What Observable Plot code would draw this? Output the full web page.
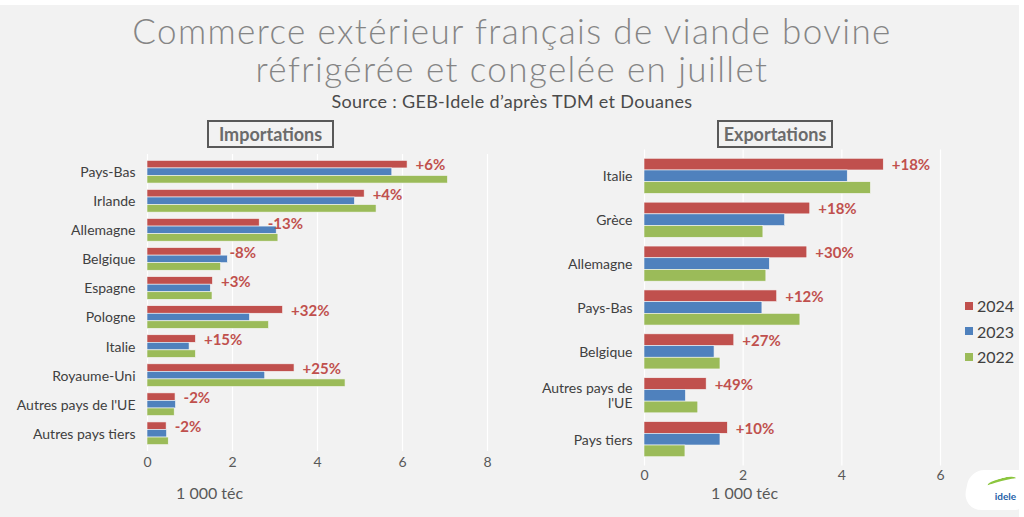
<!DOCTYPE html>
<html><head><meta charset="utf-8">
<script src="https://cdn.jsdelivr.net/npm/d3@7"></script>
<script src="https://cdn.jsdelivr.net/npm/@observablehq/plot@0.6"></script>
<style>
html,body{margin:0;padding:0;background:#ffffff;}
#root{position:relative;width:1024px;height:517px;overflow:hidden;font-family:Lato,"Open Sans",sans-serif;background:#ffffff;}
#panel{position:absolute;left:0;top:5px;width:1019px;height:512px;background:#f2f2f2;}
.abs{position:absolute;}
.title{left:0;width:1024px;text-align:center;color:#858585;font-weight:300;font-size:35px;letter-spacing:1.4px;line-height:38px;white-space:nowrap;}
.sub{left:0;width:1024px;text-align:center;color:#4a4a4a;font-size:18px;letter-spacing:0.3px;}
.box{border:2px solid #595959;color:#6b6b6b;font-weight:bold;font-size:18px;text-align:center;line-height:24px;box-sizing:border-box;}
.unit{color:#595959;font-size:16px;}
.leg{color:#404040;font-size:16px;display:flex;align-items:center;}
.leg span{display:inline-block;width:8px;height:8px;margin-right:4px;}
.plot{position:absolute;top:0;}
</style></head><body><div id="root"><div id="panel"></div></div>
<script>
const years = ["2024", "2023", "2022"];
const yearColors = ["#c0504d", "#4f81bd", "#9bbb59"];

const impCountries = ["Pays-Bas", "Irlande", "Allemagne", "Belgique", "Espagne", "Pologne", "Italie", "Royaume-Uni", "Autres pays de l'UE", "Autres pays tiers"];
const impTickLabels = ["Pays-Bas", "Irlande", "Allemagne", "Belgique", "Espagne", "Pologne", "Italie", "Royaume-Uni", "Autres pays de l'UE", "Autres pays tiers"];
const imp2024 = [6.12, 5.11, 2.64, 1.74, 1.54, 3.19, 1.14, 3.46, 0.66, 0.45];
const imp2023 = [5.76, 4.88, 3.04, 1.89, 1.49, 2.41, 0.99, 2.77, 0.67, 0.46];
const imp2022 = [7.07, 5.39, 3.08, 1.73, 1.53, 2.86, 1.14, 4.66, 0.64, 0.50];
const impLabels = ["+6%", "+4%", "-13%", "-8%", "+3%", "+32%", "+15%", "+25%", "-2%", "-2%"];
const impTicks = [0, 2, 4, 6, 8];

const expCountries = ["Italie", "Grèce", "Allemagne", "Pays-Bas", "Belgique", "Autres pays de l'UE", "Pays tiers"];
const expTickLabels = ["Italie", "Grèce", "Allemagne", "Pays-Bas", "Belgique", "Autres pays de\nl'UE", "Pays tiers"];
const exp2024 = [4.85, 3.36, 3.30, 2.69, 1.82, 1.26, 1.69];
const exp2023 = [4.12, 2.85, 2.54, 2.39, 1.42, 0.84, 1.54];
const exp2022 = [4.59, 2.41, 2.47, 3.16, 1.54, 1.09, 0.83];
const expLabels = ["+18%", "+18%", "+30%", "+12%", "+27%", "+49%", "+10%"];
const expTicks = [0, 2, 4, 6];

function makeChart(o) {
  const n = o.countries.length;
  const range = o.height - o.marginTop - o.marginBottom;
  const step = range / (n + o.padding);
  const bw = step * (1 - o.padding);
  const series = [o.s24, o.s23, o.s22];
  const rows = series.map((s, k) => o.countries.map((c, i) => ({country: c, year: years[k], value: s[i], label: o.labels[i]})));
  const marks = [
    Plot.ruleX(o.ticks, {stroke: "#ffffff", strokeWidth: 1.2}),
    ...rows.map((r, k) => Plot.barX(r, {
      x: "value", y: "country", fill: yearColors[k],
      insetTop: k * bw / 3, insetBottom: (2 - k) * bw / 3,
      stroke: "#f7f7f7", strokeWidth: 0.6
    })),
    Plot.text(rows[0], {
      x: "value", y: "country", text: "label", dx: o.labelDx, dy: -bw / 3 + 1,
      textAnchor: "start", fill: "#c0504d", fontWeight: "bold", fontSize: o.labelSize
    }),
    Plot.text(o.countries.map((c, i) => ({country: c, t: o.tickLabels[i]})), {
      y: "country", text: "t", frameAnchor: "left", textAnchor: "end", dx: -12,
      fill: "#404040", fontSize: 14, lineHeight: 1.1
    })
  ];
  return Plot.plot({
    width: o.width, height: o.height,
    marginLeft: o.marginLeft, marginRight: o.marginRight,
    marginTop: o.marginTop, marginBottom: o.marginBottom,
    style: {background: "transparent", fontSize: "14px", fontFamily: "Lato, 'Open Sans', sans-serif", color: "#595959", overflow: "visible"},
    x: {domain: [0, o.max], ticks: o.ticks, tickFormat: d3.format("d"), tickSize: 0, tickPadding: o.tickPadding, label: null},
    y: {domain: o.countries, padding: o.padding, round: false, axis: null, label: null},
    marks
  });
}

const root = document.getElementById("root");

const left = makeChart({
  countries: impCountries, tickLabels: impTickLabels, s24: imp2024, s23: imp2023, s22: imp2022,
  labels: impLabels, ticks: impTicks, max: 8,
  width: 520, height: 517, marginLeft: 147, marginRight: 33, marginTop: 154, marginBottom: 66,
  padding: 0.22, tickPadding: 6, labelDx: 8, labelSize: 15
});
left.classList.add("plot");
left.style.left = "0px";
root.appendChild(left);

const right = makeChart({
  countries: expCountries, tickLabels: expTickLabels, s24: exp2024, s23: exp2023, s22: exp2022,
  labels: expLabels, ticks: expTicks, max: 6,
  width: 480, height: 517, marginLeft: 104, marginRight: 80, marginTop: 149.5, marginBottom: 51.5,
  padding: 0.2, tickPadding: 4, labelDx: 8, labelSize: 15
});
right.classList.add("plot");
right.style.left = "540px";
root.appendChild(right);

function addDiv(cls, text, css) {
  const d = document.createElement("div");
  d.className = "abs " + cls;
  d.textContent = text;
  Object.assign(d.style, css);
  root.appendChild(d);
  return d;
}
addDiv("title", "Commerce extérieur français de viande bovine", {top: "11px"});
addDiv("title", "réfrigérée et congelée en juillet", {top: "49px"});
addDiv("sub", "Source : GEB-Idele d’après TDM et Douanes", {top: "90px"});
addDiv("box", "Importations", {left: "207px", top: "120px", width: "127px", height: "28px"});
addDiv("box", "Exportations", {left: "717px", top: "120px", width: "116px", height: "28px"});
addDiv("unit", "1 000 téc", {left: "176px", top: "483px"});
addDiv("unit", "1 000 téc", {left: "711px", top: "483px"});

years.forEach((y, k) => {
  const d = document.createElement("div");
  d.className = "abs leg";
  d.style.left = "965px";
  d.style.top = (296 + k * 25.5) + "px";
  d.innerHTML = `<span style="background:${yearColors[k]}"></span>${y}`;
  root.appendChild(d);
});

// logo
const logo = document.createElement("div");
logo.className = "abs";
Object.assign(logo.style, {left: "966px", top: "470px", width: "58px", height: "40px", background: "#ffffff", borderRadius: "14px 4px 4px 20px", transform: "skewX(-12deg)"});
logo.innerHTML = '<div style="position:absolute;left:20px;top:8px;width:28px;height:5px;border-top:3px solid #8cc63f;border-radius:50%;transform:rotate(-15deg)"></div><div style="position:absolute;left:30px;top:20px;font:bold 10px Lato,sans-serif;color:#1f5fa8;transform:skewX(12deg)">idele</div>';
root.appendChild(logo);
</script></body></html>
